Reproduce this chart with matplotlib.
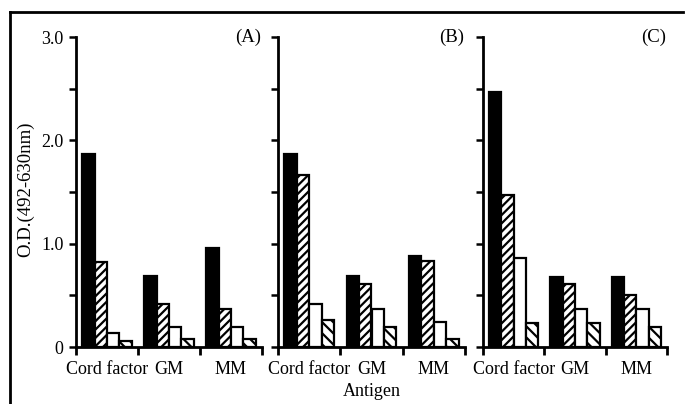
import matplotlib
matplotlib.use("Agg")
import matplotlib.pyplot as plt
from matplotlib.lines import Line2D
import numpy as np

plt.rcParams['font.family'] = ['Liberation Serif', 'DejaVu Serif']
plt.rcParams['hatch.linewidth'] = 1.6

antigens = ["Cord factor", "GM", "MM"]
panels = ["(A)", "(B)", "(C)"]
# four series per panel (black, ///, white, \\\), values per antigen
panel_A = [[1.87, 0.69, 0.96],
           [0.82, 0.42, 0.37],
           [0.14, 0.19, 0.19],
           [0.06, 0.08, 0.08]]
panel_B = [[1.87, 0.69, 0.88],
           [1.66, 0.61, 0.83],
           [0.42, 0.37, 0.24],
           [0.26, 0.19, 0.08]]
panel_C = [[2.47, 0.68, 0.68],
           [1.47, 0.61, 0.50],
           [0.86, 0.37, 0.37],
           [0.23, 0.23, 0.19]]
yticks = [0, 0.5, 1.0, 1.5, 2.0, 2.5, 3.0]
yticklabels = ["0", "", "1.0", "", "2.0", "", "3.0"]
ylabel = "O.D.(492-630nm)"
xlabel = "Antigen"

faces = ["black", "white", "white", "white"]
hatches = [None, "////", None, "\\\\\\"]

W, H = 686, 404
fig = plt.figure(figsize=(W / 100, H / 100), dpi=100)

lefts_px = [76, 278, 483]
rights_px = [262, 465, 667]
y0_px, y3_px = 347, 37

all_data = [panel_A, panel_B, panel_C]
bw = 0.2
for i, (data, lab) in enumerate(zip(all_data, panels)):
    l = lefts_px[i] / W
    w = (rights_px[i] - lefts_px[i]) / W
    b = (H - y0_px) / H
    h = (y0_px - y3_px) / H
    ax = fig.add_axes([l, b, w, h])
    x = np.arange(len(antigens))
    for k, vals in enumerate(data):
        ax.bar(x + 0.1 + k * bw, vals, width=bw, align='edge',
               color=faces[k], edgecolor='black', linewidth=1.6,
               hatch=hatches[k], zorder=2)
    ax.set_xlim(0, 3)
    ax.set_ylim(0, 3.0)
    for s in ["top", "right"]:
        ax.spines[s].set_visible(False)
    for s in ["left", "bottom"]:
        ax.spines[s].set_linewidth(2.0)
    ax.set_yticks(yticks)
    if i == 0:
        ax.set_yticklabels(yticklabels, fontsize=13)
        ax.set_ylabel(ylabel, fontsize=13.5)
        ax.yaxis.set_label_coords((34 - lefts_px[i]) / (rights_px[i] - lefts_px[i]),
                                  (y0_px - 189) / (y0_px - y3_px))
    else:
        ax.set_yticklabels([])
    ax.tick_params(axis='y', direction='out', length=5, width=1.8, pad=4)
    ax.set_xticks([0, 1, 2, 3])
    ax.set_xticklabels([])
    ax.tick_params(axis='x', which='major', direction='out', length=6, width=2)
    ax.set_xticks(x + 0.5, minor=True)
    ax.set_xticklabels(antigens, minor=True, fontsize=13)
    ax.tick_params(axis='x', which='minor', length=0, pad=10)
    ax.text(2.99, 3.0, lab, ha='right', va='center', fontsize=13.5)
    if i == 1:
        ax.set_xlabel(xlabel, fontsize=13, labelpad=4)

# figure frame (top and left edges)
fig.add_artist(Line2D([10 / W, 683 / W], [1 - 12 / H, 1 - 12 / H],
                      color='black', linewidth=2, transform=fig.transFigure))
fig.add_artist(Line2D([10 / W, 10 / W], [1 - 12 / H, 0],
                      color='black', linewidth=2, transform=fig.transFigure))

fig.savefig("out.png", dpi=100)
